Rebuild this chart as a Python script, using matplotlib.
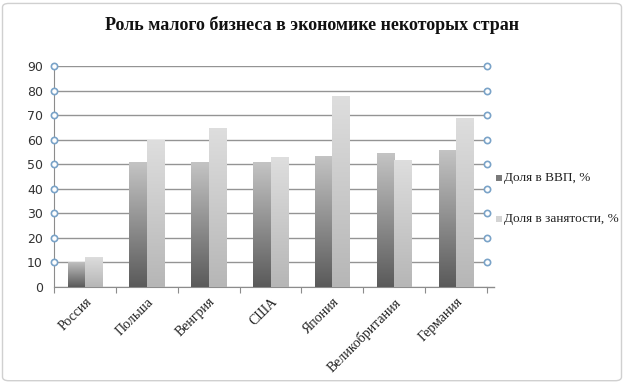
import numpy as np
import matplotlib
matplotlib.use('Agg')
import matplotlib.pyplot as plt
from matplotlib.colors import LinearSegmentedColormap
from matplotlib.patches import FancyBboxPatch

countries = ['Россия', 'Польша', 'Венгрия', 'США', 'Япония', 'Великобритания', 'Германия']
gdp_share = [10.3, 50.8, 50.8, 50.8, 53.4, 54.4, 55.9]
jobs_share = [12.4, 59.8, 64.8, 52.9, 77.8, 51.8, 68.9]
series_names = ['Доля в ВВП, %', 'Доля в занятости, %']
yticks = [0, 10, 20, 30, 40, 50, 60, 70, 80, 90]

fig = plt.figure(figsize=(6.24, 3.83), dpi=100)
fig.patches.append(FancyBboxPatch((0.004, 0.006), 0.992, 0.985, boxstyle='round,pad=0,rounding_size=0.01',
                                  transform=fig.transFigure, fill=False, edgecolor='#d0d0d0', linewidth=1))
ax = fig.add_axes([0.0865, 0.2507, 0.6940, 0.5770])

x = np.arange(len(countries))
w = 0.28
cmaps = [LinearSegmentedColormap.from_list('g1', ['#5a5a5a', '#c4c4c4']),
         LinearSegmentedColormap.from_list('g2', ['#b6b6b6', '#dedede'])]
grad = np.linspace(0, 1, 256).reshape(-1, 1)

for i, vals in enumerate([gdp_share, jobs_share]):
    bars = ax.bar(x + (i - 0.5) * w, vals, w, color='none', edgecolor='none', zorder=3)
    for b in bars:
        x0, y0 = b.get_x(), b.get_y()
        x1, y1 = x0 + b.get_width(), y0 + b.get_height()
        # gradient scaled to each bar's own height
        im = ax.imshow(grad, cmap=cmaps[i], aspect='auto', origin='lower',
                       extent=[x0, x1, y0, y1], zorder=3)
        im.set_clip_path(b)

ax.set_xlim(-0.5, len(countries) - 0.5)
ax.set_ylim(0, 90)
ax.set_yticks(yticks)
ax.set_yticklabels([str(t) for t in yticks], fontsize=9, color='#333333', family='DejaVu Sans')
ax.yaxis.grid(True, color='#949494', linewidth=1.0, zorder=1)
ax.set_axisbelow(True)
ax.tick_params(axis='y', length=0, pad=8)

ax.set_xticks(np.arange(len(countries) + 1) - 0.5, minor=False)
ax.set_xticklabels([])
ax.tick_params(axis='x', length=4, color='#8c8c8c', direction='out')
ax.set_xticks(x, minor=True)
ax.set_xticklabels(countries, minor=True, rotation=45, ha='right', rotation_mode='anchor',
                   fontsize=10, family='Liberation Serif', color='#222222')
ax.tick_params(axis='x', which='minor', length=0, pad=6)

for s in ['top', 'right']:
    ax.spines[s].set_visible(False)
ax.spines['left'].set_color('#8c8c8c')
ax.spines['bottom'].set_color('#8c8c8c')

# hollow circle markers at gridline ends on both sides
tr = ax.get_yaxis_transform()
for xa in [0, 1]:
    ax.plot([xa] * (len(yticks) - 1), yticks[1:], 'o', transform=tr, clip_on=False,
            markersize=4.5, markerfacecolor='white', markeredgecolor='#7aa3c8',
            markeredgewidth=1.2, zorder=5)
ax.plot([1, 1.015], [0, 0], transform=tr, clip_on=False, color='#8c8c8c', linewidth=1)

fig.text(0.5, 0.935, 'Роль малого бизнеса в экономике некоторых стран', ha='center', va='center',
         fontsize=13, fontweight='bold', family='Liberation Serif', color='#111111')

for j, (name, col) in enumerate(zip(series_names, ['#7a7a7a', '#d4d4d4'])):
    yy = 1 - (178 + 41 * j) / 383
    fig.patches.append(plt.Rectangle((0.795, yy - 0.009), 0.009, 0.016, transform=fig.transFigure,
                                     facecolor=col, edgecolor='none'))
    fig.text(0.807, yy, name, ha='left', va='center', fontsize=9.5,
             family='Liberation Serif', color='#222222')

fig.savefig('out.png', dpi=100)
